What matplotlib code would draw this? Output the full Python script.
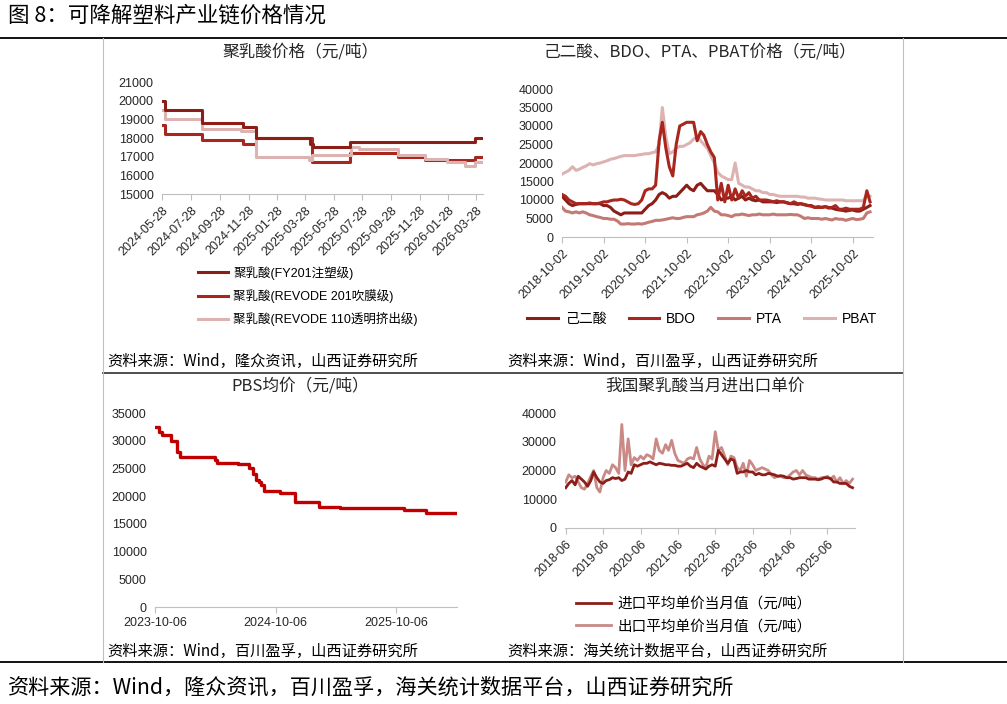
import matplotlib
matplotlib.use('Agg')
import matplotlib.pyplot as plt
import pandas as pd
from matplotlib.lines import Line2D

plt.rcParams['font.family'] = ['Liberation Sans', 'Noto Sans CJK SC']
plt.rcParams['axes.unicode_minus'] = False

# ---- 聚乳酸价格 (step series: change date, price) ----
fy201_dates = ['2024-05-28', '2024-06-03', '2024-08-20', '2024-11-16', '2024-12-14',
               '2025-04-07', '2025-04-14', '2025-07-02', '2026-03-25', '2026-04-11']
fy201_vals = [20000, 19500, 18800, 18600, 18000, 17700, 17500, 17800, 18000, 18000]
r201_dates = ['2024-05-28', '2024-06-03', '2024-08-20', '2024-11-15', '2024-12-14',
              '2025-04-12', '2025-07-02', '2025-10-13', '2025-12-09', '2026-03-25', '2026-04-11']
r201_vals = [18700, 18200, 17900, 17700, 18000, 16700, 17200, 17000, 16800, 17000, 17000]
r110_dates = ['2024-05-28', '2024-06-03', '2024-08-20', '2024-11-12', '2024-12-14',
              '2025-04-06', '2025-04-13', '2025-07-04', '2025-07-22', '2025-10-13',
              '2025-12-09', '2026-01-25', '2026-03-04', '2026-03-26', '2026-04-11']
r110_vals = [19500, 19000, 18500, 18400, 17000, 16800, 17100, 17500, 17400, 17100,
             16900, 16700, 16500, 16700, 16700]
pla_ticks = ['2024-05-28', '2024-07-28', '2024-09-28', '2024-11-28', '2025-01-28', '2025-03-28',
             '2025-05-28', '2025-07-28', '2025-09-28', '2025-11-28', '2026-01-28', '2026-03-28']

# ---- 己二酸、BDO、PTA、PBAT (monthly, from 2018-10) ----
chem_start = '2018-10-02'
adipic = [11000, 10000, 9000, 8500, 8800, 9000, 9000, 9000, 9000, 9000, 9000, 9000,
          8500, 8500, 8000, 7000, 6500, 6000, 6500, 6500, 6500, 6500, 6500, 6500,
          7500, 8500, 9000, 10000, 11500, 12000, 11500, 10500, 11000, 11000, 12000, 13000,
          14000, 13000, 12500, 14000, 14500, 13500, 12500, 12500, 12500, 11500, 10000, 10500,
          10500, 11000, 10000, 10500, 11000, 10000, 10500, 10000, 9800, 10000, 9500, 9500,
          9500, 9500, 9300, 9500, 9500, 9200, 9000, 9000, 8800, 9000, 8700, 8500,
          8500, 8000, 8200, 8000, 8200, 8000, 7800, 7500, 7300, 7200, 7000, 7200,
          7300, 7000, 7000, 7500, 8000, 8500]
bdo = [11500, 11000, 10000, 9500, 9000, 9000, 9000, 9000, 9200, 9000, 9000, 9200,
       9500, 9500, 9800, 10000, 10000, 10200, 10000, 9500, 9000, 8800, 9000, 10000,
       12500, 13000, 13000, 14000, 26000, 31000, 24000, 19000, 16500, 25000, 30000, 30500,
       31000, 31000, 31000, 26000, 28500, 27500, 25000, 23000, 21500, 10000, 14500, 9500,
       14000, 10000, 13000, 10500, 12500, 11000, 12000, 10500, 11000, 10000, 10000, 10000,
       9800, 9500, 9800, 9500, 9500, 9300, 9000, 9500, 9000, 9000, 8800, 8500,
       8300, 8000, 8000, 8000, 8200, 7800, 8000, 8500, 7500, 7500, 7800, 7500,
       7500, 7500, 7500, 8000, 12500, 9500]
pta = [8000, 7000, 6800, 6500, 6800, 6500, 6800, 6500, 6000, 5800, 5500, 5300,
       5000, 5000, 4800, 4800, 4300, 3500, 3500, 3600, 3500, 3500, 3600, 3500,
       3700, 4000, 4200, 4500, 4500, 4600, 4800, 5000, 5200, 5000, 5000, 5300,
       5500, 5500, 5500, 6000, 6200, 6500, 7000, 8000, 7000, 6800, 6000, 6000,
       5800, 5500, 6000, 6000, 6200, 6000, 5800, 6000, 6000, 6200, 6000, 6000,
       6000, 6200, 6000, 6000, 6000, 6000, 6100, 6000, 6000, 5600, 5000, 5200,
       5000, 5000, 5000, 4800, 5000, 4800, 4600, 5000, 4800, 4800, 4500, 4800,
       5000, 4700, 4800, 5000, 6500, 6800]
pbat = [17000, 17500, 18000, 19000, 18000, 18300, 18800, 19200, 19800, 19500, 19800, 20000,
        20300, 20600, 21000, 21200, 21500, 21800, 22000, 22000, 22000, 22000, 22200, 22300,
        22500, 22500, 22800, 23000, 25000, 35000, 27000, 22500, 23000, 24000, 24500, 24500,
        25000, 25500, 26500, 27000, 26000, 25000, 24000, 22000, 20000, 17500, 16500, 16000,
        15500, 15500, 20000, 14500, 14000, 13500, 13500, 13000, 12500, 12500, 12000, 12000,
        11500, 11500, 11200, 11000, 11000, 11000, 11000, 11000, 11000, 10800, 10800, 10500,
        10500, 10500, 10300, 10200, 10000, 10000, 10000, 10000, 10000, 10000, 9800, 9800,
        9800, 9800, 9800, 9800, 11500, 11000]
chem_ticks = ['2018-10-02', '2019-10-02', '2020-10-02', '2021-10-02',
              '2022-10-02', '2023-10-02', '2024-10-02', '2025-10-02']

# ---- PBS均价 (step series) ----
pbs_dates = ['2023-10-06', '2023-10-16', '2023-10-26', '2023-11-24', '2023-12-11', '2023-12-19',
             '2024-04-03', '2024-04-09', '2024-06-13', '2024-07-18', '2024-07-30', '2024-08-08',
             '2024-08-15', '2024-08-22', '2024-08-30', '2024-09-17', '2024-10-20', '2024-12-04',
             '2025-02-14', '2025-04-19', '2025-10-31', '2026-01-05', '2026-04-09']
pbs_vals = [32500, 31500, 31000, 30000, 28000, 27000, 26500, 26000, 25800, 25000, 24000,
            23000, 22500, 22000, 21000, 21000, 20500, 19000, 18000, 17800, 17500, 17000, 17000]
pbs_ticks = ['2023-10-06', '2024-10-06', '2025-10-06']

# ---- 我国聚乳酸当月进出口单价 (monthly, from 2018-06) ----
trade_start = '2018-06-01'
imp = [14000, 15500, 16500, 15000, 18000, 17000, 16000, 14500, 16500, 19500, 17500, 16000,
       15500, 16500, 16800, 17500, 17200, 17500, 16500, 17000, 19500, 19000, 22000, 21500,
       22000, 22500, 22500, 23000, 22500, 22000, 22500, 22300, 22000, 22000, 21800, 21800,
       21500, 21500, 22000, 22500, 21500, 21000, 22500, 21500, 21000, 20500, 21500, 22000,
       21500, 27000, 25500, 24000, 22500, 24000, 23500, 19000, 19500, 19500, 20000, 19500,
       19500, 18500, 19000, 18500, 18500, 19000, 18800, 18500, 18000, 18200, 18000, 17500,
       17500, 17000, 17200, 17500, 17500, 17500, 17000, 17000, 17000, 16800, 17000, 17500,
       17500, 17200, 16000, 16000, 15500, 15500, 15500, 14500, 14000]
exp = [16000, 18500, 17500, 18000, 16000, 14000, 13500, 15500, 18000, 20000, 14000, 12500,
       17500, 20000, 19000, 22000, 21000, 19000, 36000, 20000, 31000, 22000, 24500, 23500,
       25000, 24000, 25500, 25000, 24000, 31000, 27000, 26000, 29000, 27000, 30500, 26000,
       23500, 23000, 22500, 24000, 24500, 24000, 28000, 24000, 22000, 21000, 25000, 24000,
       33500, 27000, 28000, 25000, 22000, 25000, 24500, 21000, 20000, 22500, 18000, 23500,
       22000, 20000, 20500, 21000, 20500, 20000, 18500, 17500, 18000, 18000, 17500, 17500,
       18500, 19500, 20000, 18500, 20000, 18500, 18000, 17500, 17500, 17000, 17500, 17500,
       18000, 17000, 18000, 16000, 17500, 15500, 16500, 15500, 17000]
trade_ticks = ['2018-06', '2019-06', '2020-06', '2021-06', '2022-06',
               '2023-06', '2024-06', '2025-06']

W, H = 1007, 704
fig = plt.figure(figsize=(W / 100, H / 100), dpi=100)


def box(x0, y0, x1, y1):
    return [x0 / W, 1 - y1 / H, (x1 - x0) / W, (y1 - y0) / H]


def fx(x):
    return x / W


def fy(y):
    return 1 - y / H


def style(ax):
    for s in ['top', 'right', 'left']:
        ax.spines[s].set_visible(False)
    ax.spines['bottom'].set_color('#BFBFBF')
    ax.tick_params(axis='y', length=0, labelsize=9, colors='#262626', pad=6)
    ax.tick_params(axis='x', length=4, color='#BFBFBF', labelcolor='#262626', labelsize=9)
    ax.patch.set_alpha(0)


c_dark = '#8C1D17'
c_red = '#A8261E'
c_rose = '#C47A74'
c_pink = '#DDB3B1'

# top-left
ax1 = fig.add_axes(box(162, 82, 483, 194))
style(ax1)
l1, = ax1.plot(pd.to_datetime(fy201_dates), fy201_vals, drawstyle='steps-post', color=c_dark, lw=2.2)
l2, = ax1.plot(pd.to_datetime(r201_dates), r201_vals, drawstyle='steps-post', color=c_red, lw=2.2)
l3, = ax1.plot(pd.to_datetime(r110_dates), r110_vals, drawstyle='steps-post', color=c_pink, lw=2.2)
l1.set_zorder(3)
ax1.set_ylim(15000, 21000)
ax1.set_yticks(range(15000, 21001, 1000))
ax1.set_xlim(pd.Timestamp('2024-05-27'), pd.Timestamp('2026-04-12'))
ax1.set_xticks(pd.to_datetime(pla_ticks))
ax1.set_xticklabels(pla_ticks, rotation=45, ha='right', rotation_mode='anchor')
fig.legend([l1, l2, l3], ['聚乳酸(FY201注塑级)', '聚乳酸(REVODE 201吹膜级)', '聚乳酸(REVODE 110透明挤出级)'],
           loc='center', bbox_to_anchor=(fx(308), fy(296)), frameon=False, fontsize=9,
           handlelength=2.4, labelspacing=0.75, handletextpad=0.4)

# top-right
ax2 = fig.add_axes(box(562, 89, 873, 237))
style(ax2)
cd = pd.date_range(chem_start, periods=len(adipic), freq=pd.DateOffset(months=1))
h1, = ax2.plot(cd, pbat, color=c_pink, lw=2.2)
h2, = ax2.plot(cd, pta, color=c_rose, lw=2.2)
h3, = ax2.plot(cd, adipic, color=c_dark, lw=2.2)
h4, = ax2.plot(cd, bdo, color=c_red, lw=2.2)
ax2.set_ylim(0, 40000)
ax2.set_yticks(range(0, 40001, 5000))
ax2.set_xlim(pd.Timestamp('2018-10-02'), pd.Timestamp('2026-03-28'))
ax2.set_xticks(pd.to_datetime(chem_ticks))
ax2.set_xticklabels(chem_ticks, rotation=45, ha='right', rotation_mode='anchor')
fig.legend([h3, h4, h2, h1], ['己二酸', 'BDO', 'PTA', 'PBAT'], loc='center',
           bbox_to_anchor=(fx(702), fy(319)), frameon=False, fontsize=10, ncol=4,
           handlelength=2.2, columnspacing=1.6, handletextpad=0.5)

# bottom-left
ax3 = fig.add_axes(box(155, 413, 457, 607))
style(ax3)
ax3.plot(pd.to_datetime(pbs_dates), pbs_vals, drawstyle='steps-post', color='#C00000', lw=2.4)
ax3.set_ylim(0, 35000)
ax3.set_yticks(range(0, 35001, 5000))
ax3.set_xlim(pd.Timestamp('2023-10-05'), pd.Timestamp('2026-04-10'))
ax3.set_xticks(pd.to_datetime(pbs_ticks))
ax3.set_xticklabels(pbs_ticks)

# bottom-right
ax4 = fig.add_axes(box(565, 413, 855, 528))
style(ax4)
td = pd.date_range(trade_start, periods=len(imp), freq='MS')
g2, = ax4.plot(td, exp, color='#C98A86', lw=2)
g1, = ax4.plot(td, imp, color='#8C1D17', lw=2)
ax4.set_ylim(0, 40000)
ax4.set_yticks(range(0, 40001, 10000))
ax4.set_xlim(pd.Timestamp('2018-05-25'), pd.Timestamp('2026-02-25'))
ax4.set_xticks(pd.to_datetime(trade_ticks))
ax4.set_xticklabels(trade_ticks, rotation=45, ha='right', rotation_mode='anchor')
fig.legend([g1, g2], ['进口平均单价当月值（元/吨）', '出口平均单价当月值（元/吨）'], loc='center',
           bbox_to_anchor=(fx(694), fy(615)), frameon=False, fontsize=10.5,
           handlelength=2.4, labelspacing=0.6, handletextpad=0.4)

# panel titles and sources
cjk = ['Noto Sans CJK SC', 'DejaVu Sans']
fig.text(fx(300), fy(52), '聚乳酸价格（元/吨）', ha='center', va='center', fontsize=12, family=cjk, color='#262626')
fig.text(fx(700), fy(52), '己二酸、BDO、PTA、PBAT价格（元/吨）', ha='center', va='center', fontsize=12, family=cjk, color='#262626')
fig.text(fx(300), fy(386), 'PBS均价（元/吨）', ha='center', va='center', fontsize=12, family=cjk, color='#262626')
fig.text(fx(705), fy(386), '我国聚乳酸当月进出口单价', ha='center', va='center', fontsize=12, family=cjk, color='#262626')
fig.text(fx(107), fy(361), '资料来源：Wind，隆众资讯，山西证券研究所', va='center', fontsize=11, family=cjk)
fig.text(fx(507), fy(361), '资料来源：Wind，百川盈孚，山西证券研究所', va='center', fontsize=11, family=cjk)
fig.text(fx(107), fy(651), '资料来源：Wind，百川盈孚，山西证券研究所', va='center', fontsize=11, family=cjk)
fig.text(fx(507), fy(651), '资料来源：海关统计数据平台，山西证券研究所', va='center', fontsize=11, family=cjk)

fig.text(fx(8), fy(16), '图 8：可降解塑料产业链价格情况', va='center', fontsize=15.5, family=cjk)
fig.text(fx(8), fy(688), '资料来源：Wind，隆众资讯，百川盈孚，海关统计数据平台，山西证券研究所', va='center',
         fontsize=15.2, family=cjk)

# frame lines
fig.add_artist(Line2D([0, 1], [fy(38), fy(38)], color='black', lw=1.3))
fig.add_artist(Line2D([0, 1], [fy(662), fy(662)], color='black', lw=1.3))
fig.add_artist(Line2D([fx(103), fx(903)], [fy(373), fy(373)], color='#404040', lw=1.3))
fig.add_artist(Line2D([fx(103), fx(103)], [fy(38), fy(662)], color='#BFBFBF', lw=0.8))
fig.add_artist(Line2D([fx(903), fx(903)], [fy(38), fy(662)], color='#BFBFBF', lw=0.8))

fig.savefig('out.png', dpi=100)
